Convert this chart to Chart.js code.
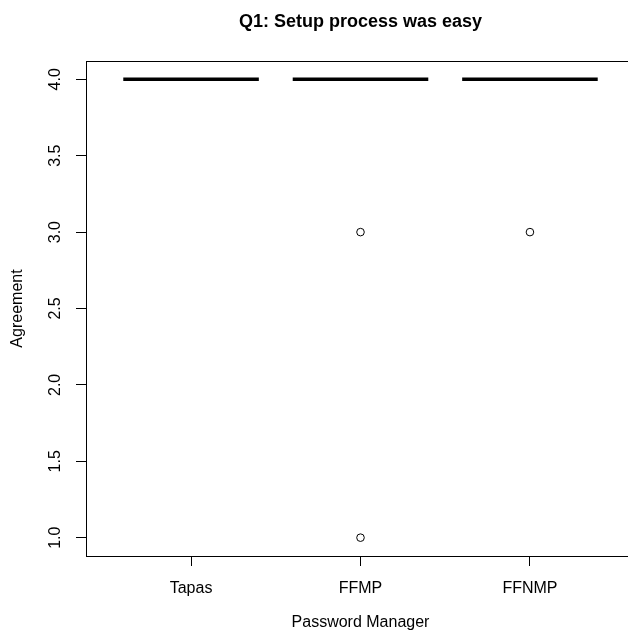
<!DOCTYPE html>
<html>
<head>
<meta charset="utf-8">
<script src="https://cdn.jsdelivr.net/npm/chart.js@4/dist/chart.umd.min.js"></script>
<style>
html,body{margin:0;padding:0;background:#fff;overflow:hidden;}
#wrap{position:relative;width:640px;height:631px;}
</style>
</head>
<body>
<div id="wrap"><canvas id="c" width="640" height="631"></canvas></div>
<script>
// ---- data ----
const categories = ["Tapas", "FFMP", "FFNMP"];
const medians = [4, 4, 4];
const outlierGroups = [[], [3, 1], [3]];
const yTicks = [1.0, 1.5, 2.0, 2.5, 3.0, 3.5, 4.0];
const chartTitle = "Q1: Setup process was easy";
const xTitle = "Password Manager";
const yTitle = "Agreement";

const FONT = "'Liberation Sans', Arial, Helvetica, sans-serif";
const boxHalf = 0.4;

const datasets = [];
categories.forEach((c, i) => {
  const x = i + 1;
  datasets.push({
    type: 'line',
    data: [{x: x - boxHalf, y: medians[i]}, {x: x + boxHalf, y: medians[i]}],
    borderColor: '#000', borderWidth: 3.5, pointRadius: 0, borderCapStyle: 'butt', fill: false
  });
});
const outPts = [];
outlierGroups.forEach((g, i) => g.forEach(v => outPts.push({x: i + 1, y: v})));
datasets.push({
  type: 'scatter',
  data: outPts,
  pointStyle: 'circle', pointRadius: 3.8, pointBackgroundColor: '#fff',
  pointBorderColor: '#000', pointBorderWidth: 1
});

const boxPlugin = {
  id: 'box',
  afterDatasetsDraw(chart) {
    const {ctx, chartArea: a} = chart;
    ctx.save();
    ctx.strokeStyle = '#000';
    ctx.lineWidth = 1;
    ctx.strokeRect(Math.round(a.left) + 0.5, Math.round(a.top) + 0.5, Math.round(a.right - a.left), Math.round(a.bottom - a.top));
    ctx.restore();
  }
};

new Chart(document.getElementById('c'), {
  type: 'scatter',
  data: {datasets},
  plugins: [boxPlugin],
  options: {
    responsive: false,
    animation: false,
    layout: {padding: {left: 0, right: 2, top: 0, bottom: 0}},
    plugins: {
      legend: {display: false},
      tooltip: {enabled: false},
      title: {
        display: true, text: chartTitle, fullSize: false,
        color: '#000', font: {family: FONT, size: 18, weight: 'bold'},
        padding: {top: 11.2, bottom: 28.2}
      }
    },
    scales: {
      x: {
        type: 'linear', min: 0.38, max: 3.62,
        afterBuildTicks(s) { s.ticks = categories.map((c, i) => ({value: i + 1})); },
        afterFit(s) { s.height = 75; },
        ticks: {
          callback: (v) => categories[v - 1] ?? '',
          color: '#000', font: {family: FONT, size: 16}, padding: 12.5, maxRotation: 0, autoSkip: false
        },
        grid: {display: true, drawOnChartArea: false, drawTicks: true, tickLength: 10, color: '#000', lineWidth: 1},
        border: {display: false},
        title: {display: true, text: xTitle, color: '#000', font: {family: FONT, size: 16}, padding: {top: 0, bottom: -1.5}}
      },
      y: {
        type: 'linear', min: 0.88, max: 4.12,
        afterBuildTicks(s) { s.ticks = yTicks.map(v => ({value: v})); },
        afterFit(s) { s.width = 86; },
        ticks: {
          callback: (v) => v.toFixed(1),
          color: '#000', font: {family: FONT, size: 16}, padding: 9.5,
          minRotation: 90, maxRotation: 90, crossAlign: 'center'
        },
        grid: {display: true, drawOnChartArea: false, drawTicks: true, tickLength: 10, color: '#000', lineWidth: 1},
        border: {display: false},
        title: {display: true, text: yTitle, color: '#000', font: {family: FONT, size: 16}, padding: {top: 8.4, bottom: 0}}
      }
    }
  }
});
</script>
</body>
</html>
